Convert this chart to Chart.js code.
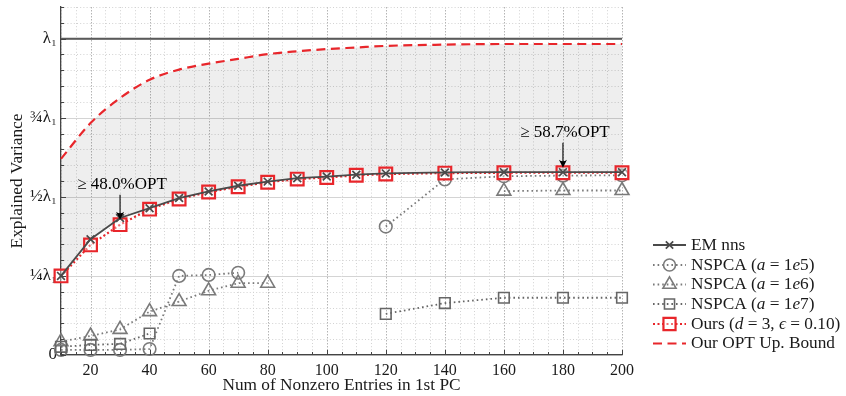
<!DOCTYPE html>
<html><head><meta charset="utf-8">
<script src="https://cdn.jsdelivr.net/npm/chart.js@4.4.0/dist/chart.umd.min.js"></script>
<style>html,body{margin:0;padding:0;background:#fff;}#wrap{width:846px;height:396px;position:relative;}</style>
</head><body><div id="wrap"><canvas id="c"></canvas></div>
<script>
// ---- data ----
const xValues   = [10,20,30,40,50,60,70,80,90,100,110,120,140,160,180,200];
const emNns     = [0.250,0.366,0.433,0.464,0.496,0.517,0.535,0.548,0.559,0.564,0.570,0.574,0.577,0.578,0.578,0.578];
const nspca1e5  = [0.016,0.016,0.016,0.019,0.250,0.253,0.260,null,null,null,null,0.406,0.555,0.565,0.567,0.568];
const nspca1e6  = [0.042,0.060,0.081,0.137,0.169,0.203,0.227,0.227,null,null,null,null,null,0.518,0.520,0.520];
const nspca1e7  = [0.026,0.032,0.035,0.068,null,null,null,null,null,null,null,0.130,0.164,0.181,0.181,0.181];
const ours      = [0.250,0.348,0.412,0.461,0.493,0.515,0.532,0.546,0.556,0.561,0.568,0.572,0.575,0.576,0.576,0.576];
const optBound  = [0.620,0.733,0.812,0.870,0.902,0.921,0.936,0.951,0.960,0.967,0.972,0.977,0.981,0.983,0.983,0.983];
const lambdaX   = [10,200];
const lambdaY   = [1,1];
const xTickLabels = [20,40,60,80,100,120,140,160,180,200];
const yTickLabels = {'0':'0','0.25':'¼λ₁','0.5':'½λ₁','0.75':'¾λ₁','1':'λ₁'};
const seriesLabels = ['EM nns','NSPCA (*a* = 1*e*5)','NSPCA (*a* = 1*e*6)','NSPCA (*a* = 1*e*7)','Ours (*d* = 3, *ϵ* = 0.10)','Our OPT Up. Bound'];
const notes = [{x:30, text:'≥ 48.0%OPT'},{x:180, text:'≥ 58.7%OPT'}];

const FONT = '"Liberation Serif", "DejaVu Serif", serif';
const pts = arr => xValues.map((x,i)=>({x:x, y:arr[i]}));
const GRAY = '#7a7a7a', DARK = '#4a4a4a', RED = '#e8262b';

const datasets = [
 {label:seriesLabels[0], data:pts(emNns), borderColor:DARK, backgroundColor:DARK, borderWidth:1.8,
  pointStyle:'crossRot', pointRadius:5.5, pointBorderWidth:1.7, pointBorderColor:DARK, order:0},
 {label:seriesLabels[1], data:pts(nspca1e5), borderColor:GRAY, borderDash:[1.6,3], borderWidth:1.8,
  pointStyle:'circle', pointRadius:6.3, pointBorderWidth:1.6, pointBackgroundColor:'rgba(255,255,255,0)', pointBorderColor:GRAY, spanGaps:false, order:3},
 {label:seriesLabels[2], data:pts(nspca1e6), borderColor:GRAY, borderDash:[1.6,3], borderWidth:1.8,
  pointStyle:'triangle', pointRadius:8, pointBorderWidth:1.6, pointBackgroundColor:'rgba(255,255,255,0)', pointBorderColor:GRAY, spanGaps:false, order:4},
 {label:seriesLabels[3], data:pts(nspca1e7), borderColor:'#666', borderDash:[1.6,3], borderWidth:1.8,
  pointStyle:'rect', pointRadius:7.5, pointBorderWidth:1.6, pointBackgroundColor:'rgba(255,255,255,0)', pointBorderColor:'#666', spanGaps:false, order:2},
 {label:seriesLabels[4], data:pts(ours), borderColor:RED, borderDash:[2,2.5], borderWidth:2.2,
  pointStyle:'rect', pointRadius:9, pointBorderWidth:2.2, pointBackgroundColor:'rgba(255,255,255,0.35)', pointBorderColor:RED, order:1},
 {label:seriesLabels[5], data:pts(optBound), borderColor:RED, borderDash:[9,5.5], borderWidth:2.2, pointRadius:0,
  cubicInterpolationMode:'monotone', fill:{target:0, above:'rgba(0,0,0,0.065)', below:'rgba(0,0,0,0)'}, backgroundColor:'rgba(0,0,0,0.065)', order:5},
 {label:'lambda', data:lambdaX.map((x,i)=>({x:x,y:lambdaY[i]})), borderColor:'#5a5a5a', borderWidth:2, pointRadius:0, order:6, isRef:true}
];

const isMajorY = v => Math.abs(v*4-Math.round(v*4))<1e-6;
const gridPlugin = {
 id:'gridPlugin',
 beforeDraw(chart){
  const {ctx, chartArea:a, scales:{x,y}} = chart;
  ctx.save();
  ctx.lineWidth = 1;
  x.ticks.forEach(t=>{
    const px = Math.round(x.getPixelForValue(t.value))+0.5;
    const major = t.value%20===0;
    ctx.strokeStyle = major ? '#b4b4b4' : '#d2d2d2';
    ctx.setLineDash(major ? [1.5,1.5] : [1,2.2]);
    ctx.beginPath(); ctx.moveTo(px,a.top); ctx.lineTo(px,a.bottom); ctx.stroke();
  });
  y.ticks.forEach(t=>{
    const py = Math.round(y.getPixelForValue(t.value))+0.5;
    const major = isMajorY(t.value);
    ctx.strokeStyle = major ? '#d4d4d4' : '#d2d2d2';
    ctx.setLineDash(major ? [] : [1,2.2]);
    ctx.beginPath(); ctx.moveTo(a.left,py); ctx.lineTo(a.right,py); ctx.stroke();
  });
  ctx.restore();
 },
 afterDatasetsDraw(chart){
  const {ctx, chartArea:a, scales:{x,y}} = chart;
  ctx.save();
  ctx.strokeStyle = '#444'; ctx.lineWidth = 1; ctx.setLineDash([]);
  x.ticks.forEach(t=>{
    const px = Math.round(x.getPixelForValue(t.value))+0.5;
    const len = t.value%20===0 ? 5 : 3;
    ctx.beginPath(); ctx.moveTo(px,a.bottom); ctx.lineTo(px,a.bottom-len); ctx.stroke();
  });
  y.ticks.forEach(t=>{
    const py = Math.round(y.getPixelForValue(t.value))+0.5;
    const len = isMajorY(t.value) ? 5 : 3;
    ctx.beginPath(); ctx.moveTo(a.left,py); ctx.lineTo(a.left+len,py); ctx.stroke();
  });
  // annotations
  notes.forEach(n=>{
    const idx = xValues.indexOf(n.x);
    const px = x.getPixelForValue(n.x), py = y.getPixelForValue(ours[idx]);
    const tip = py-5, start = tip-25;
    ctx.strokeStyle='#000'; ctx.fillStyle='#000'; ctx.lineWidth=1.1;
    ctx.beginPath(); ctx.moveTo(px,start); ctx.lineTo(px,tip-3); ctx.stroke();
    ctx.beginPath(); ctx.moveTo(px,tip); ctx.lineTo(px-4,tip-8); ctx.quadraticCurveTo(px,tip-5,px+4,tip-8); ctx.closePath(); ctx.fill();
    ctx.font = '17px '+FONT; ctx.textAlign='center'; ctx.textBaseline='middle';
    ctx.fillText(n.text, px+2, start-10);
  });
  ctx.restore();
 },
 afterDraw(chart){
  const ctx = chart.ctx;
  ctx.save();
  const rowY = [245,265,284.5,304,324,343.5];
  chart.data.datasets.forEach((ds,i)=>{
    if (ds.isRef) return;
    const yy = rowY[i];
    ctx.strokeStyle = ds.borderColor; ctx.lineWidth = ds.borderWidth; ctx.setLineDash(ds.borderDash||[]);
    ctx.beginPath(); ctx.moveTo(653,yy); ctx.lineTo(686,yy); ctx.stroke();
    ctx.setLineDash([]);
    if (ds.pointRadius>0){
      ctx.strokeStyle = ds.pointBorderColor; ctx.fillStyle = ds.pointBackgroundColor||ds.pointBorderColor;
      ctx.lineWidth = ds.pointBorderWidth;
      Chart.helpers.drawPoint(ctx,{pointStyle:ds.pointStyle,radius:ds.pointRadius*0.95,rotation:0,borderWidth:ds.pointBorderWidth},669.5,yy);
    }
    const parts = ds.label.split('*');
    let tx = 691;
    ctx.fillStyle='#1a1a1a'; ctx.textBaseline='middle'; ctx.textAlign='left';
    parts.forEach((p,k)=>{
      ctx.font = (k%2?'italic ':'')+'17.3px '+FONT;
      ctx.fillText(p,tx,yy); tx += ctx.measureText(p).width;
    });
  });
  ctx.restore();
 }
};

function zeroPad(s){ s.paddingTop=0; s.paddingBottom=0; s.paddingLeft=0; s.paddingRight=0; }

new Chart(document.getElementById('c'),{
 type:'line',
 data:{datasets:datasets},
 options:{
  responsive:true, maintainAspectRatio:false, animation:false,
  layout:{autoPadding:false, padding:{left:0,right:224,top:7,bottom:0}},
  plugins:{legend:{display:false}, tooltip:{enabled:false}},
  elements:{line:{tension:0}, point:{hitRadius:0}},
  datasets:{line:{clip:false}},
  scales:{
   x:{type:'linear', min:10, max:200,
      grid:{display:false, drawTicks:false},
      border:{display:true, color:'#444', width:1.3},
      ticks:{stepSize:5, autoSkip:false, maxRotation:0, padding:6, color:'#1a1a1a', font:{family:FONT,size:16},
             callback:v=> xTickLabels.includes(v) ? String(v) : ''},
      title:{display:true, text:'Num of Nonzero Entries in 1st PC', color:'#1a1a1a', font:{family:FONT,size:17.3}, padding:{top:0,bottom:0.5}},
      afterFit:s=>{s.height=41; zeroPad(s);}},
   y:{type:'linear', min:0, max:1.1,
      grid:{display:false, drawTicks:false},
      border:{display:true, color:'#444', width:1.3},
      ticks:{stepSize:0.05, autoSkip:false, padding:4, color:'#1a1a1a', font:{family:FONT,size:17},
             callback:v=>{ for (const k in yTickLabels){ if (Math.abs(v-parseFloat(k))<1e-6) return yTickLabels[k]; } return ''; }},
      title:{display:true, text:'Explained Variance', color:'#1a1a1a', font:{family:FONT,size:17.3}, padding:{top:7,bottom:0}},
      afterFit:s=>{s.width=61; zeroPad(s);}}
  }
 },
 plugins:[gridPlugin]
});
</script></body></html>
